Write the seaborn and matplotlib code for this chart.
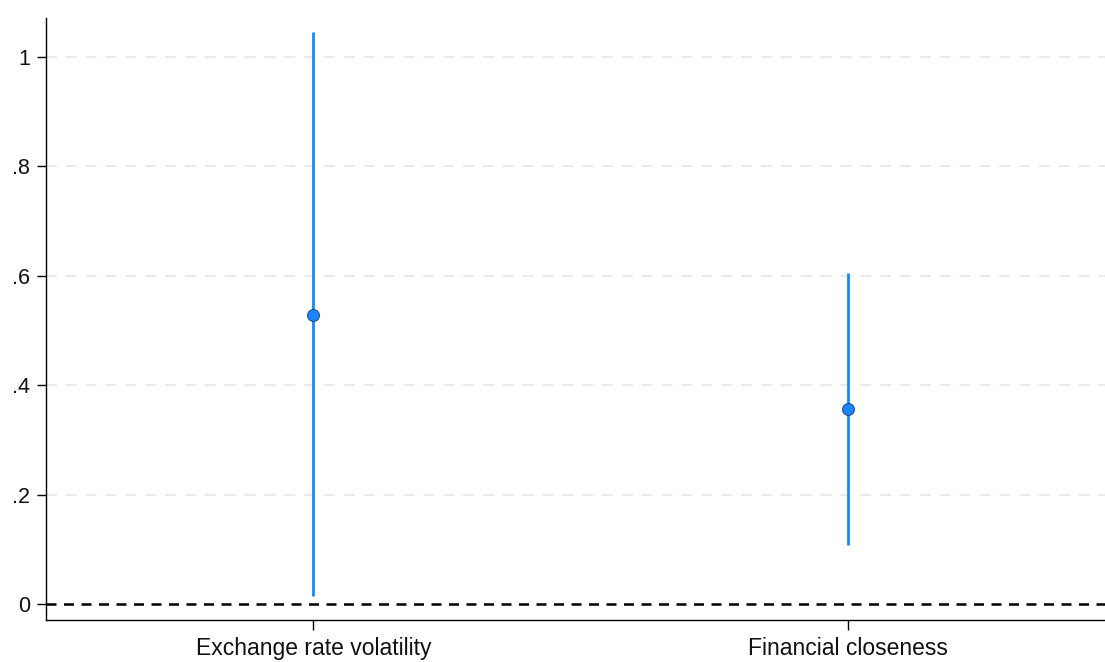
import matplotlib
matplotlib.use("Agg")
import matplotlib.pyplot as plt
import seaborn as sns
import pandas as pd

# coefficient estimates and 95% CI
labels = ["Exchange rate volatility", "Financial closeness"]
coef = [0.529, 0.357]
ci_low = [0.015, 0.108]
ci_high = [1.046, 0.605]
yticks = [0, 0.2, 0.4, 0.6, 0.8, 1.0]
ytick_labels = ["0", ".2", ".4", ".6", ".8", "1"]

sns.set_theme(style="white")
plt.rcParams['font.family'] = ['Liberation Sans', 'DejaVu Sans']

df = pd.DataFrame({"var": labels, "pos": [1, 2], "coef": coef,
                   "lo": ci_low, "hi": ci_high})

fig = plt.figure(figsize=(11.05, 6.62), dpi=100)
ax = fig.add_axes([0.0416, 0.0634, 0.9584, 0.9096])

blue = "#1a85ff"
# light dashed grid
for y in yticks[1:]:
    ax.axhline(y, color="#e8e8e8", lw=1.3, ls=(0, (6, 5)), zorder=0)
ax.axhline(0, color="black", lw=1.8, ls=(0, (4, 3)), zorder=1)

ax.vlines(df["pos"], df["lo"], df["hi"], color=blue, lw=2, zorder=2)
sns.scatterplot(data=df, x="pos", y="coef", ax=ax, color=blue, s=75,
                edgecolor="#1a3a6a", linewidth=0.6, zorder=3)

ax.set_xlim(0.5, 2.48)
ax.set_ylim(-0.029, 1.071)
ax.set_xticks(df["pos"])
ax.set_xticklabels(labels, fontsize=16.5, color="#111111")
ax.set_yticks(yticks)
ax.set_yticklabels(ytick_labels, fontsize=15.5, color="#111111")
ax.set_xlabel("")
ax.set_ylabel("")

for s in ["top", "right"]:
    ax.spines[s].set_visible(False)
for s in ["left", "bottom"]:
    ax.spines[s].set_color("black")
    ax.spines[s].set_linewidth(1.0)
ax.tick_params(axis="x", direction="out", length=7.5, width=1,
               color="black", bottom=True, pad=5)
ax.tick_params(axis="y", direction="out", length=6.5, width=1,
               color="black", left=True, pad=5)

fig.savefig("out.png", dpi=100)
